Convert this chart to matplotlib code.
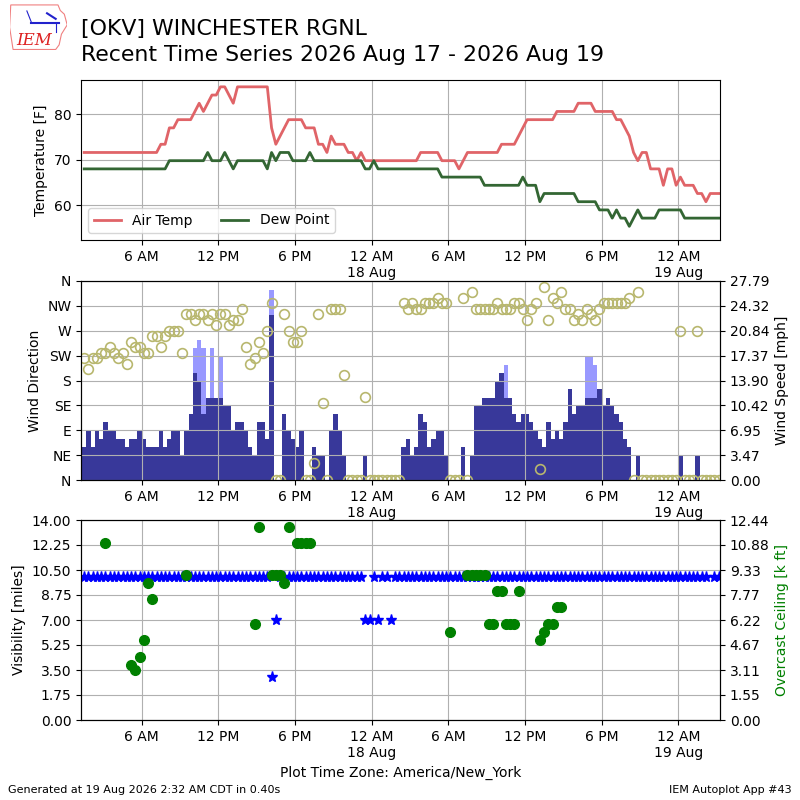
import numpy as np
import pandas as pd
import matplotlib
matplotlib.use("Agg")
import matplotlib.pyplot as plt
import matplotlib.dates as mdates
from matplotlib.ticker import FuncFormatter

# ---------------------------------------------------------------------
# Observations, one every 20 minutes (AWOS), starting 17 Aug 01:30 EDT
# ---------------------------------------------------------------------
nan = np.nan
valid = pd.date_range("2026-08-17 01:30", periods=150, freq="20min")

temp_c = [
    22, 22, 22, 22, 22, 22, 22, 22, 22, 22,
    22, 22, 22, 22, 22, 22, 22, 22, 23, 23,
    25, 25, 26, 26, 26, 26, 27, 28, 27, 28,
    29, 29, 30, 30, 29, 28, 30, 30, 30, 30,
    30, 30, 30, 30, 25, 23, 24, 25, 26, 26,
    26, 26, 25, 25, 25, 23, 23, 22, 24, 23,
    23, 23, 22, 22, 21, 22, 21, 21, 21, 21,
    21, 21, 21, 21, 21, 21, 21, 21, 21, 22,
    22, 22, 22, 22, 21, 21, 21, 21, 20, 21,
    22, 22, 22, 22, 22, 22, 22, 22, 23, 23,
    23, 23, 24, 25, 26, 26, 26, 26, 26, 26,
    26, 27, 27, 27, 27, 27, 28, 28, 28, 28,
    27, 27, 27, 27, 27, 26, 26, 25, 24, 22,
    21, 22, 22, 20, 20, 20, 18, 20, 20, 18,
    19, 18, 18, 18, 17, 17, 16, 17, 17, 17,
]
dewp_c = [
    20, 20, 20, 20, 20, 20, 20, 20, 20, 20,
    20, 20, 20, 20, 20, 20, 20, 20, 20, 20,
    21, 21, 21, 21, 21, 21, 21, 21, 21, 22,
    21, 21, 21, 22, 21, 20, 21, 21, 21, 21,
    21, 21, 21, 20, 22, 21, 22, 22, 22, 21,
    21, 21, 21, 22, 21, 21, 21, 21, 21, 21,
    21, 21, 21, 21, 21, 21, 20, 20, 21, 20,
    20, 20, 20, 20, 20, 20, 20, 20, 20, 20,
    20, 20, 20, 20, 19, 19, 19, 19, 19, 19,
    19, 19, 19, 19, 18, 18, 18, 18, 18, 18,
    18, 18, 18, 19, 18, 18, 18, 16, 17, 17,
    17, 17, 17, 17, 17, 17, 16, 16, 16, 16,
    16, 15, 15, 15, 14, 15, 14, 14, 13, 14,
    15, 14, 14, 14, 14, 15, 15, 15, 15, 15,
    15, 14, 14, 14, 14, 14, 14, 14, 14, 14,
]
# wind direction [deg], speed and gust [kt]
drct = [
    220, 200, 220, 220, 230, 230, 240, 230, 220, 230,
    210, 250, 240, 240, 230, 230, 260, 260, 240, 260,
    270, 270, 270, 230, 300, 300, 290, 300, 300, 290,
    300, 280, 300, 300, 280, 290, 290, 310, 240, 210,
    220, 250, 230, 270, 320, 0, 0, 300, 270, 250,
    250, 270, 0, 0, 30, 300, 140, 0, 310, 310,
    310, 190, 0, 0, 0, 0, 150, 0, 0, 0,
    0, 0, 0, 0, 0, 320, 310, 320, 310, 310,
    320, 320, 320, 330, 320, 320, 0, 0, 0, 330,
    0, 340, 310, 310, 310, 310, 310, 320, 310, 310,
    310, 320, 320, 310, 290, 310, 320, 20, 350, 290,
    330, 320, 340, 310, 310, 290, 300, 290, 310, 300,
    290, 310, 320, 320, 320, 320, 320, 320, 330, 0,
    340, 0, 0, 0, 0, 0, 0, 0, 0, 0,
    270, 0, 0, 0, 270, 0, 0, 0, 0, 0,
]
sknt = [
    4, 6, 4, 6, 5, 7, 6, 6, 5, 5,
    4, 5, 5, 6, 5, 4, 4, 4, 6, 4,
    5, 6, 6, 3, 6, 8, 13, 12, 8, 10,
    10, 10, 10, 9, 9, 6, 7, 7, 6, 4,
    3, 7, 7, 5, 20, 0, 0, 8, 6, 5,
    4, 6, 0, 0, 4, 3, 3, 0, 6, 8,
    6, 3, 0, 0, 0, 0, 3, 0, 0, 0,
    0, 0, 0, 0, 0, 4, 5, 3, 4, 8,
    7, 4, 5, 6, 6, 3, 0, 0, 0, 4,
    0, 3, 9, 9, 10, 10, 10, 12, 13, 10,
    10, 8, 7, 8, 8, 7, 6, 5, 4, 7,
    5, 6, 5, 7, 11, 8, 9, 9, 10, 10,
    10, 11, 9, 10, 9, 8, 7, 5, 4, 0,
    3, 0, 0, 0, 0, 0, 0, 0, 0, 0,
    3, 0, 0, 0, 3, 0, 0, 0, 0, 0,
]
gust = [
    0, 0, 0, 0, 0, 0, 0, 0, 0, 0,
    0, 0, 0, 0, 0, 0, 0, 0, 0, 0,
    0, 0, 0, 0, 0, 0, 16, 17, 16, 0,
    16, 0, 15, 0, 0, 0, 0, 0, 0, 0,
    0, 0, 0, 0, 23, 0, 0, 0, 0, 0,
    0, 0, 0, 0, 0, 0, 0, 0, 0, 0,
    0, 0, 0, 0, 0, 0, 0, 0, 0, 0,
    0, 0, 0, 0, 0, 0, 0, 0, 0, 0,
    0, 0, 0, 0, 0, 0, 0, 0, 0, 0,
    0, 0, 0, 0, 0, 0, 0, 0, 0, 14,
    0, 0, 0, 0, 0, 0, 0, 0, 0, 0,
    0, 0, 0, 0, 0, 0, 0, 0, 15, 15,
    14, 0, 0, 0, 0, 0, 0, 0, 0, 0,
    0, 0, 0, 0, 0, 0, 0, 0, 0, 0,
    0, 0, 0, 0, 0, 0, 0, 0, 0, 0,
]
# visibility [miles] and overcast ceiling [k ft]
vsby = [
    10, 10, 10, 10, 10, 10, 10, 10, 10, 10,
    10, 10, 10, 10, 10, 10, 10, 10, 10, 10,
    10, 10, 10, 10, 10, 10, 10, 10, 10, 10,
    10, 10, 10, 10, 10, 10, 10, 10, 10, 10,
    10, 10, 10, 10, 3, 7, 10, 10, 10, 10,
    10, 10, 10, 10, 10, 10, 10, 10, 10, 10,
    10, 10, 10, 10, 10, 10, 7, 7, 10, 7,
    10, 10, 7, 10, 10, 10, 10, 10, 10, 10,
    10, 10, 10, 10, 10, 10, 10, 10, 10, 10,
    10, 10, 10, 10, 10, 10, 10, 10, 10, 10,
    10, 10, 10, 10, 10, 10, 10, 10, 10, 10,
    10, 10, 10, 10, 10, 10, 10, 10, 10, 10,
    10, 10, 10, 10, 10, 10, 10, 10, 10, 10,
    10, 10, 10, 10, 10, 10, 10, 10, 10, 10,
    10, 10, 10, 10, 10, 10, 10, nan, 10, 10,
]
ceil = [
    nan, nan, nan, nan, nan, 11.0, nan, nan, nan, nan,
    nan, 3.4, 3.1, 3.9, 5.0, 8.5, 7.5, nan, nan, nan,
    nan, nan, nan, nan, 9.0, nan, nan, nan, nan, nan,
    nan, nan, nan, nan, nan, nan, nan, nan, nan, nan,
    6.0, 12.0, nan, nan, 9.0, 9.0, 9.0, 8.5, 12.0, nan,
    11.0, 11.0, 11.0, 11.0, nan, nan, nan, nan, nan, nan,
    nan, nan, nan, nan, nan, nan, nan, nan, nan, nan,
    nan, nan, nan, nan, nan, nan, nan, nan, nan, nan,
    nan, nan, nan, nan, nan, nan, 5.5, nan, nan, nan,
    9.0, 9.0, 9.0, 9.0, 9.0, 6.0, 6.0, 8.0, 8.0, 6.0,
    6.0, 6.0, 8.0, nan, nan, nan, nan, 5.0, 5.5, 6.0,
    6.0, 7.0, 7.0, nan, nan, nan, nan, nan, nan, nan,
    nan, nan, nan, nan, nan, nan, nan, nan, nan, nan,
    nan, nan, nan, nan, nan, nan, nan, nan, nan, nan,
    nan, nan, nan, nan, nan, nan, nan, nan, nan, nan,
]

tmpf = np.array(temp_c) * 9.0 / 5.0 + 32.0
dwpf = np.array(dewp_c) * 9.0 / 5.0 + 32.0
sped_mph = np.array(sknt) * 1.15078
gust_mph = np.array(gust) * 1.15078
xlim = (pd.Timestamp("2026-08-17 01:15"), pd.Timestamp("2026-08-19 03:16"))


def timefmt(x, pos=None):
    d = mdates.num2date(x)
    lab = d.strftime("%-I %p")
    if d.hour == 0:
        lab += "\n" + d.strftime("%-d %b")
    return lab


def setup_x(ax):
    ax.set_xlim(*xlim)
    ax.xaxis.set_major_locator(mdates.HourLocator(byhour=[0, 6, 12, 18]))
    ax.xaxis.set_major_formatter(FuncFormatter(timefmt))
    ax.grid(True)


fig = plt.figure(figsize=(8, 8), dpi=100)

# title + logo
fig.text(0.101, 0.964, "[OKV] WINCHESTER RGNL", fontsize=15.8, va="center")
fig.text(0.101, 0.931, "Recent Time Series 2026 Aug 17 - 2026 Aug 19",
         fontsize=15.8, va="center")
lax = fig.add_axes([0.012, 0.937, 0.072, 0.058])
lax.axis("off")
lax.set_xlim(0, 1)
lax.set_ylim(0, 1)
lax.fill([0.02, 0.84, 0.88, 0.95, 1.0, 0.9, 0.86, 0.8, 0.06, 0.0],
         [0.98, 0.98, 0.86, 0.78, 0.55, 0.35, 0.12, 0.02, 0.02, 0.5],
         facecolor="white", edgecolor="#f08080", lw=0.8)
lax.plot([0.38, 0.85], [0.6, 0.6], color="#2222cc", lw=1.5)
lax.plot([0.38, 0.3], [0.6, 0.85], color="#2222cc", lw=0.8)
lax.plot([0.65, 0.8], [0.8, 0.68], color="#2222cc", lw=1.5)
lax.plot([0.8, 0.8], [0.6, 0.4], color="#2222cc", lw=0.8)
lax.text(0.42, 0.22, "IEM", color="#dd2222", fontsize=12, family="serif",
         style="italic", ha="center", va="center")

# temperature panel
ax1 = fig.add_axes([0.10125, 0.70, 0.79875, 0.20])
ax1.plot(valid, tmpf, color="#e06468", lw=2, label="Air Temp")
ax1.plot(valid, dwpf, color="#336633", lw=2, label="Dew Point")
ax1.set_ylim(52.4, 87.5)
ax1.set_yticks([60, 70, 80])
ax1.set_ylabel("Temperature [F]")
ax1.legend(loc="lower left", ncol=2)
setup_x(ax1)

# wind panel
ax2 = fig.add_axes([0.10125, 0.40, 0.79875, 0.24875])
ax2b = ax2.twinx()
has_g = gust_mph > 0
ax2b.bar(valid[has_g], gust_mph[has_g], width=1 / 72.0, color="#9999ff",
         linewidth=0)
has_s = sped_mph > 0
ax2b.bar(valid[has_s], sped_mph[has_s], width=1 / 72.0, color="#38389a",
         linewidth=0)
smax = gust_mph.max() * 1.05
ax2b.set_ylim(0, smax)
ax2b.set_yticks(np.linspace(0, smax, 9))
ax2b.yaxis.set_major_formatter(FuncFormatter(lambda v, p: "%.2f" % v))
ax2b.set_ylabel("Wind Speed [mph]")
ax2.plot(valid, drct, linestyle="none", marker="o", ms=7, mfc="none",
         mec="#b8b76e", mew=1.2)
ax2.set_ylim(0, 360)
ax2.set_yticks(range(0, 361, 45))
ax2.set_yticklabels(["N", "NE", "E", "SE", "S", "SW", "W", "NW", "N"])
ax2.set_ylabel("Wind Direction")
ax2.set_zorder(ax2b.get_zorder() + 1)
ax2.patch.set_visible(False)
setup_x(ax2)

# visibility / ceiling panel
ax3 = fig.add_axes([0.10125, 0.10, 0.79875, 0.25])
ax3.plot(valid, vsby, linestyle="none", marker="*", ms=8, color="b")
ax3.set_ylim(0, 14)
ax3.set_yticks(np.linspace(0, 14, 9))
ax3.yaxis.set_major_formatter(FuncFormatter(lambda v, p: "%.2f" % v))
ax3.set_ylabel("Visibility [miles]")
ax3.set_xlabel("Plot Time Zone: America/New_York")
setup_x(ax3)
ax3b = ax3.twinx()
ax3b.plot(valid, ceil, linestyle="none", marker="o", ms=7, color="g")
ax3b.set_ylim(0, 12.44)
ax3b.set_yticks(np.linspace(0, 12.44, 9))
ax3b.yaxis.set_major_formatter(FuncFormatter(lambda v, p: "%.2f" % v))
ax3b.set_ylabel("Overcast Ceiling [k ft]", color="g")
ax3b.set_xlim(*xlim)

fig.text(0.01, 0.012, "Generated at 19 Aug 2026 2:32 AM CDT in 0.40s",
         fontsize=8, va="center")
fig.text(0.99, 0.012, "IEM Autoplot App #43", fontsize=8, va="center",
         ha="right")

fig.savefig("out.png", dpi=100)
